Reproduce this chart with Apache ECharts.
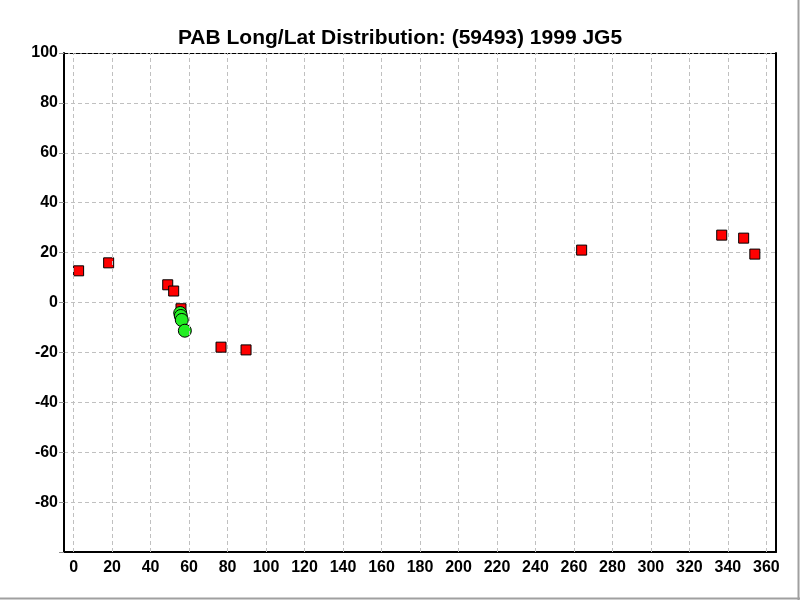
<!DOCTYPE html>
<html>
<head>
<meta charset="utf-8">
<script src="https://cdn.jsdelivr.net/npm/echarts@6/dist/echarts.min.js"></script>
<style>html,body{margin:0;padding:0;background:#fff;}#c{width:800px;height:600px;}</style>
</head>
<body>
<div id="c"></div>
<script>
const titleText = 'PAB Long/Lat Distribution: (59493) 1999 JG5';
const redLong = [2.6, 18.2, 48.9, 52.0, 55.8, 76.6, 89.6, 264.0, 336.8, 348.2, 354.0];
const redLat  = [12.7, 15.9, 7.1, 4.6, -2.5, -17.9, -19.0, 21.0, 27.0, 25.8, 19.4];
const greenLong = [55.4, 55.7, 56.2, 57.8];
const greenLat  = [-4.2, -5.4, -7.0, -11.3];
const xTicks = [0,20,40,60,80,100,120,140,160,180,200,220,240,260,280,300,320,340,360];
const yTicks = [-100,-80,-60,-40,-20,0,20,40,60,80,100];

const chart = echarts.init(document.getElementById('c'), null, {renderer:'canvas'});
const font = 'Liberation Sans, Arial, sans-serif';
const gridLine = {show:true, lineStyle:{color:'#c0c0c0', type:[4,3], width:1}};
chart.setOption({
  animation:false,
  backgroundColor:'#fff',
  title:{text:titleText, left:'center', top:23, textStyle:{fontFamily:font, fontSize:21, fontWeight:'bold', color:'#000'}},
  grid:{left:64, right:24, top:53, bottom:48},
  xAxis:[{
    type:'value', min:-5, max:365, interval:20, position:'bottom',
    axisLine:{show:true, onZero:false, lineStyle:{color:'#000', width:2}},
    axisTick:{show:false},
    splitLine:{show:false},
    axisLabel:{fontFamily:font, fontSize:16, fontWeight:'bold', color:'#000', margin:8,
      customValues: xTicks, formatter: v => String(v)}
  },{
    type:'value', min:-5, max:365, position:'top',
    axisLine:{show:true, onZero:false, lineStyle:{color:'#000', width:1, type:[4,2]}},
    axisTick:{show:false}, axisLabel:{show:false}, splitLine:{show:false}
  }],
  yAxis:[{
    type:'value', min:-100, max:100, interval:20, position:'left',
    axisLine:{show:true, onZero:false, lineStyle:{color:'#000', width:2}},
    axisTick:{show:true, length:5, lineStyle:{color:'#909090'}},
    axisLabel:{fontFamily:font, fontSize:16, fontWeight:'bold', color:'#000', margin:6,
      formatter: v => (v === -100 ? '' : String(v))},
    splitLine:gridLine
  },{
    type:'value', min:-100, max:100, position:'right',
    axisLine:{show:true, onZero:false, lineStyle:{color:'#000', width:2}},
    axisTick:{show:false}, axisLabel:{show:false}, splitLine:{show:false}
  }],
  series:[
    {type:'line', xAxisIndex:0, yAxisIndex:0, data:[], markLine:{silent:true, symbol:'none', label:{show:false},
      lineStyle:{color:'#c0c0c0', type:[4,3], width:1},
      data: xTicks.map(v => ({xAxis:v}))}},
    {type:'scatter', symbol:'rect', symbolSize:10, z:3,
      itemStyle:{color:'#ff0000', borderColor:'#000', borderWidth:1, opacity:1},
      data: redLong.map((v,i)=>[v, redLat[i]])},
    {type:'scatter', symbol:'circle', symbolSize:13, z:4,
      itemStyle:{color:'#22ee22', borderColor:'#000', borderWidth:1, opacity:1},
      data: greenLong.map((v,i)=>[v, greenLat[i]])}
  ],
  graphic:[
    {type:'line', shape:{x1:0, y1:598.5, x2:800, y2:598.5}, style:{stroke:'#a0a0a0', lineWidth:2}},
    {type:'line', shape:{x1:798.5, y1:0, x2:798.5, y2:600}, style:{stroke:'#a0a0a0', lineWidth:2}}
  ]
});
</script>
</body>
</html>
